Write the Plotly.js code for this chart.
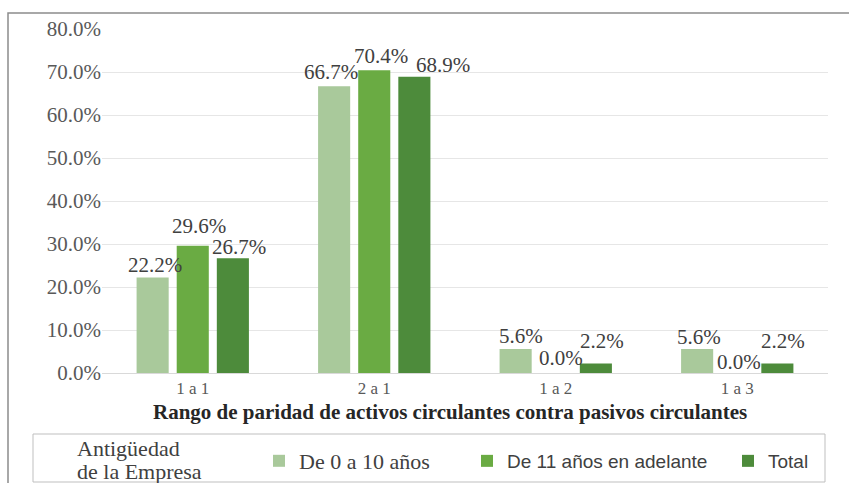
<!DOCTYPE html>
<html>
<head>
<meta charset="utf-8">
<script src="https://cdn.plot.ly/plotly-3.0.1.min.js"></script>
<style>
  html, body { margin: 0; padding: 0; background: #ffffff; }
  #chart { width: 849px; height: 483px; }
</style>
</head>
<body>
<div id="chart"></div>
<script>
// Ratio ranges of current assets vs current liabilities
const categories = ['1 a 1', '2 a 1', '1 a 2', '1 a 3'];

// Share of firms (%) by company age
const seriesNames = ['De 0 a 10 años', 'De 11 años en adelante', 'Total'];
const young = [22.2, 66.7, 5.6, 5.6];
const older = [29.6, 70.4, 0.0, 0.0];
const total = [26.7, 68.9, 2.2, 2.2];

const yTicks = [0, 10, 20, 30, 40, 50, 60, 70, 80];
const yTickText = ['0.0%', '10.0%', '20.0%', '30.0%', '40.0%', '50.0%', '60.0%', '70.0%', '80.0%'];

const xTitle = 'Rango de paridad de activos circulantes contra pasivos circulantes';
const legendTitleLines = ['Antigüedad', 'de la Empresa'];

const colors = ['#a9c99b', '#6aab43', '#4d8b3b'];
const serif = 'Liberation Serif, serif';
const sans = 'Liberation Sans, sans-serif';

// plot area in pixels
const L = 102, R = 828, T = 29, B = 373;
const px = x => (x - L) / (R - L);
const py = y => (B - y) / (B - T);

// bar centre offset within a group (px) and label nudges so labels do not collide
const barOffset = [-40, 0, 40];
const labelDx = [[2, 6, 6], [-3, 7, 29], [5, 5, 6], [2, 2, 6]];
const labelDy = [[13, 20, 11], [14, 14, 12], [13, 15, 23], [12, 11, 23]];

const seriesValues = [young, older, total];

function barTrace(values, i, legendId) {
  return {
    type: 'bar',
    x: categories,
    y: values,
    name: seriesNames[i],
    legend: legendId,
    marker: { color: colors[i] },
    hoverinfo: 'skip'
  };
}

const data = [
  barTrace(young, 0, 'legend'),
  barTrace(older, 1, 'legend2'),
  barTrace(total, 2, 'legend3')
];

// value labels drawn from the same arrays as the bars
const valueLabels = [];
seriesValues.forEach((vals, s) => {
  vals.forEach((v, c) => {
    valueLabels.push({
      x: categories[c], y: v, xref: 'x', yref: 'y',
      text: v.toFixed(1) + '%', showarrow: false,
      xanchor: 'center', yanchor: 'middle',
      xshift: barOffset[s] + labelDx[c][s],
      yshift: labelDy[c][s],
      font: { family: serif, size: 21, color: '#404040' }
    });
  });
});

// legend title, one annotation per line for tight leading
const titleLabels = legendTitleLines.map((t, i) => ({
  text: t, xref: 'paper', yref: 'paper',
  x: px(75), y: py(448 + i * 23), xanchor: 'left', yanchor: 'middle',
  showarrow: false, align: 'left',
  font: { family: serif, size: 22, color: '#404040' }
}));

// x axis title
const axisTitle = {
  text: '<b>' + xTitle + '</b>', xref: 'paper', yref: 'paper',
  x: px(450), y: py(412), xanchor: 'center', yanchor: 'middle',
  showarrow: false,
  font: { family: serif, size: 21, color: '#262626' }
};

function legendAt(xpx, fontFamily, size) {
  return {
    x: px(xpx), y: py(461), xanchor: 'left', yanchor: 'middle',
    orientation: 'h', bgcolor: 'rgba(0,0,0,0)', borderwidth: 0,
    font: { family: fontFamily, size: size, color: '#404040' },
    itemwidth: 30, traceorder: 'normal'
  };
}

const layout = {
  width: 849, height: 483,
  margin: { l: L, r: 849 - R, t: T, b: 483 - B, autoexpand: false },
  paper_bgcolor: '#ffffff', plot_bgcolor: '#ffffff',
  barmode: 'group',
  bargap: 0.337,
  bargroupgap: 0.2,
  showlegend: true,
  xaxis: {
    type: 'category',
    showgrid: false, showline: false, ticks: '',
    ticklabelstandoff: 3,
    tickfont: { family: serif, size: 17, color: '#595959' },
    automargin: false
  },
  yaxis: {
    range: [0, 80], fixedrange: true,
    tickvals: yTicks, ticktext: yTickText,
    showgrid: true, gridcolor: '#e6e6e6', gridwidth: 1,
    zeroline: true, zerolinecolor: '#d9d9d9', zerolinewidth: 1,
    showline: false, ticks: '',
    tickfont: { family: serif, size: 21, color: '#595959' },
    automargin: false
  },
  legend: legendAt(259, serif, 22),
  legend2: legendAt(467, sans, 19),
  legend3: legendAt(728, sans, 19),
  annotations: valueLabels.concat(titleLabels, [axisTitle]),
  shapes: [
    // outer chart frame
    { type: 'rect', xref: 'paper', yref: 'paper', layer: 'below',
      x0: px(8), x1: px(880), y0: py(13), y1: py(520),
      line: { color: '#8c8c8c', width: 1.5 }, fillcolor: 'rgba(0,0,0,0)' },
    // legend box
    { type: 'rect', xref: 'paper', yref: 'paper', layer: 'below',
      x0: px(33), x1: px(825), y0: py(434), y1: py(482),
      line: { color: '#bfbfbf', width: 1 }, fillcolor: 'rgba(0,0,0,0)' }
  ]
};

Plotly.newPlot('chart', data, layout, { displayModeBar: false, staticPlot: true });
</script>
</body>
</html>
